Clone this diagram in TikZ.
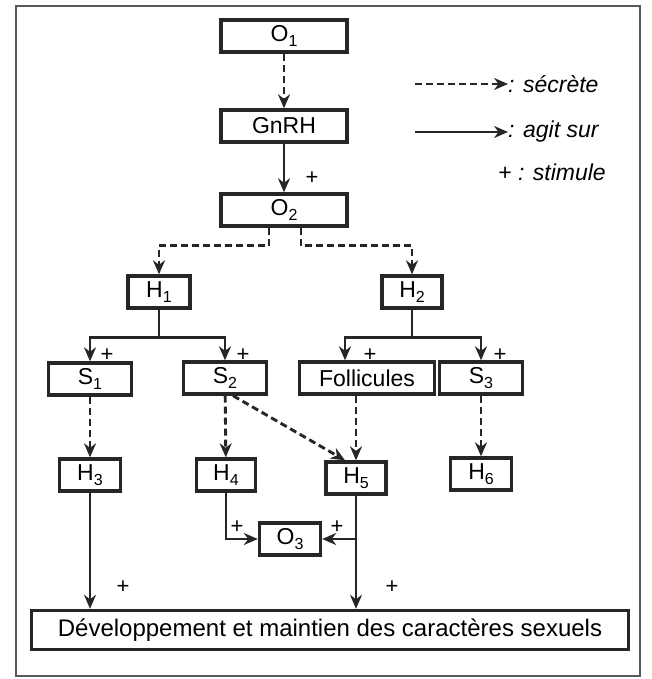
\documentclass[tikz,border=0pt]{standalone}
\usepackage{fontspec}
\setmainfont{Liberation Sans}
\usetikzlibrary{arrows.meta}
\newcommand{\idx}[1]{\raisebox{-0.45ex}{\fontsize{16}{16}\selectfont #1}}

\begin{document}
\begin{tikzpicture}[x=1pt, y=-1pt,
    box/.style={draw=black!85, line width=3.4pt, minimum height=32pt, inner sep=0pt, font=\fontsize{23}{25}\selectfont},
    sec/.style={-{Stealth[length=14pt,width=12pt]}, line width=2.9pt, dash pattern=on 7pt off 4pt, black!85},
    act/.style={-{Stealth[length=14pt,width=12pt]}, line width=2.9pt, black!85},
    plus/.style={font=\fontsize{22}{22}\selectfont, inner sep=0pt},
    leg/.style={font=\fontsize{23}{25}\selectfont\itshape, anchor=west, inner sep=0pt}
]
\useasboundingbox (0,0) rectangle (652,679);
\draw[black!65, line width=1.3pt] (16,6) rectangle (640,676);

\node[box, minimum width=126pt] (o1) at (284,36) {O\idx{1}};
\node[box, minimum width=126pt] (gnrh) at (284,126) {GnRH};
\node[box, minimum width=126pt] (o2) at (284,210) {O\idx{2}};
\node[box, minimum width=62pt] (h1) at (159,292) {H\idx{1}};
\node[box, minimum width=60pt] (h2) at (412,292) {H\idx{2}};
\node[box, minimum width=83pt] (s1) at (90,379) {S\idx{1}};
\node[box, minimum width=83pt] (s2) at (225,378) {S\idx{2}};
\node[box, minimum width=135pt] (foll) at (367,378) {Follicules};
\node[box, minimum width=83pt] (s3) at (481,378) {S\idx{3}};
\node[box, minimum width=61pt] (h3) at (90,475) {H\idx{3}};
\node[box, minimum width=59pt] (h4) at (226,475) {H\idx{4}};
\node[box, minimum width=60pt] (h5) at (356,478) {H\idx{5}};
\node[box, minimum width=61pt] (h6) at (481,474) {H\idx{6}};
\node[box, minimum width=61pt] (o3) at (290,539) {O\idx{3}};
\node[box, minimum width=597pt, minimum height=39pt, font=\fontsize{24}{26}\selectfont] (dev) at (330,630) {Développement et maintien des caractères sexuels};

% legend
\node[leg] (l-sec) at (508,84) {: sécrète};
\node[leg] (l-act) at (508,132) {: agit sur};
\node[leg] (l-stim) at (498,172) {+ : stimule};
\draw[sec] ([xshift=-93pt]l-sec.west) -- (l-sec.west);
\draw[act] ([xshift=-93pt]l-act.west) -- (l-act.west);

% plus signs
\node[plus] (p-gnrh) at (312,178) {+};
\node[plus] (p-s1) at (107,355) {+};
\node[plus] (p-s2) at (243,355) {+};
\node[plus] (p-foll) at (370,355) {+};
\node[plus] (p-s3) at (500,355) {+};
\node[plus] (p-h4) at (237,527) {+};
\node[plus] (p-h5) at (337,527) {+};
\node[plus] (p-h3) at (123,587) {+};
\node[plus] (p-dev) at (392,587) {+};

\draw[sec] (o1) -- (gnrh);
\draw[act] (gnrh) -- (o2);
\draw[sec] ([xshift=-15pt]o2.south) -- ++(0,18) -| (h1.north);
\draw[sec] ([xshift=17pt]o2.south) -- ++(0,18) -| (h2.north);
\draw[act] (h1.south) -- ++(0,28) -| (s1.north);
\draw[act] (h1.south) -- ++(0,28) -| (s2.north);
\draw[act] (h2.south) -- ++(0,28) -| ([xshift=-22pt]foll.north);
\draw[act] (h2.south) -- ++(0,28) -| (s3.north);

\draw[sec] (s1) -- (h3);
\draw[sec] (s2) -- (h4);
\draw[sec] (foll.south -| h5) -- (h5);
\draw[sec] (s3) -- (h6);
\draw[sec] ([xshift=8pt]s2.south) -- ([xshift=-11pt]h5.north);

\coordinate (h5o3) at (h5.south |- o3.east);
\draw[act] (h4.south) |- (o3.west);
\draw[act] (h5o3) -- (o3.east);
\draw[act] (h3.south) -- (h3.south |- dev.north);
\draw[act] (h5.south) -- (h5.south |- dev.north);
\end{tikzpicture}
\end{document}
